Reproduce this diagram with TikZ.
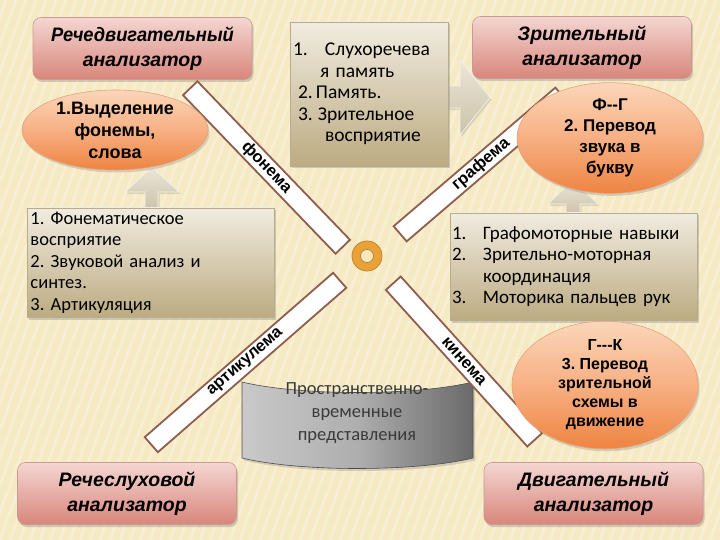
\documentclass[tikz,border=0pt]{standalone}
\usepackage{fontspec}
\setmainfont{Liberation Sans}
\newfontfamily\calfont{Carlito}
\usetikzlibrary{shapes.geometric,shadows}
\frenchspacing
\definecolor{bg}{HTML}{F6EAC4}
\definecolor{pinktop}{HTML}{F4D6D2}
\definecolor{pinkbot}{HTML}{D8867B}
\definecolor{pinkedge}{HTML}{C99A92}
\definecolor{ortop}{HTML}{FBD6BA}
\definecolor{ormid}{HTML}{F7B083}
\definecolor{orbot}{HTML}{EE8442}
\definecolor{oredge}{HTML}{E5A27A}
\definecolor{tantop}{HTML}{F1ECE0}
\definecolor{tanbot}{HTML}{BCAB82}
\definecolor{tanedge}{HTML}{B8AC90}
\definecolor{arrtop}{HTML}{ECE6D8}
\definecolor{arrbot}{HTML}{CCC2AA}
\definecolor{barbrown}{HTML}{8E5D4E}
\definecolor{ringor}{HTML}{E9A23B}
\definecolor{ringdk}{HTML}{C98420}
\definecolor{txtgray}{HTML}{3A3A3A}
\definecolor{cylL}{HTML}{C9C9C9}
\definecolor{cylM}{HTML}{AEAEAE}
\definecolor{cylR}{HTML}{6A6A6A}
\tikzset{
  anbox/.style={rectangle, rounded corners=8pt, draw=pinkedge, line width=0.6pt,
    top color=pinktop, bottom color=pinkbot, minimum width=219pt, minimum height=62pt,
    align=center, inner sep=0pt,
    font=\fontsize{19.5}{25}\selectfont\bfseries\itshape,
    drop shadow={opacity=0.35, shadow xshift=1.5pt, shadow yshift=-2.5pt}},
  oval/.style={ellipse, draw=oredge, line width=0.6pt, top color=ortop, bottom color=orbot,
    middle color=ormid, inner sep=0pt, align=center,
    drop shadow={opacity=0.3, shadow xshift=1.5pt, shadow yshift=-2.5pt}},
  tanbox/.style={rectangle, draw=tanedge, line width=0.5pt, top color=tantop, bottom color=tanbot,
    align=left, inner ysep=0pt, font=\calfont\fontsize{18.5}{21.5}\selectfont,
    drop shadow={opacity=0.35, shadow xshift=2pt, shadow yshift=-2.5pt}},
  bar/.style={rectangle, draw=barbrown, line width=1.8pt, fill=white, minimum height=20pt,
    inner sep=0pt, font=\fontsize{16.5}{17}\selectfont\bfseries},
  blockarrow/.style={top color=arrtop, bottom color=arrbot, draw=white!85!tanedge, line width=0.6pt,
    drop shadow={opacity=0.25, shadow xshift=1.5pt, shadow yshift=-2pt}}
}
\begin{document}
\begin{tikzpicture}[x=1pt,y=-1pt]
\useasboundingbox (0,0) rectangle (720,540);
\fill[bg] (0,0) rectangle (720,540);
\begin{scope}
\clip (0,0) rectangle (720,540);
\foreach \i in {-22,...,74} {
  \draw[white, opacity=0.25, line width=3pt] (\i*10,540) -- ++(196,-540);
}
\end{scope}

% block arrows (behind boxes)
\path[blockarrow] (446,86) -- (460,86) -- (460,60) -- (490,97.5) -- (460,135) -- (460,108) -- (446,108) -- cycle;
\path[blockarrow] (145,210) -- (145,192) -- (125,192) -- (152,167) -- (179,192) -- (158,192) -- (158,210) -- cycle;
\path[blockarrow] (566,215) -- (566,204) -- (548,204) -- (573,180) -- (598,204) -- (580,204) -- (580,215) -- cycle;

% analyzer boxes
\node[anbox] (rd) at (142.5,48.5) {\scalebox{0.94}[1]{Речедвигательный}\\анализатор};
\node[anbox] (zr) at (582,47.5) {Зрительный\\анализатор};
\node[anbox] (rs) at (127,493.5) {Речеслуховой\\анализатор};
\node[anbox] (dv) at (593.5,493.5) {Двигательный\\анализатор};

% central memory box
\node[tanbox, minimum width=158pt, minimum height=144pt, text width=152pt, inner xsep=3pt,
  font=\calfont\fontsize{19.5}{21.5}\selectfont] (mem) at (369,94)
 {\makebox[32pt][l]{1.}Слухоречева\\
  \hspace*{27pt}я память\\
  \hspace*{5pt}\makebox[18pt][l]{2.}Память.\\
  \hspace*{5pt}\makebox[20pt][l]{3.}Зрительное\\
  \hspace*{32pt}восприятие};

% left box
\node[tanbox, minimum width=247pt, minimum height=109pt, text width=240pt, inner xsep=3.5pt] (lbox) at (150.5,262.5)
 {1. Фонематическое\\
  восприятие\\
  2. Звуковой анализ и\\
  синтез.\\
  3. Артикуляция};

% right box
\node[tanbox, minimum width=247pt, minimum height=107pt, text width=243pt, inner xsep=2pt,
  font=\calfont\fontsize{19}{21.5}\selectfont] (rbox) at (573.5,266.5)
 {\makebox[31pt][l]{1.}Графомоторные навыки\\
  \makebox[31pt][l]{2.}Зрительно-моторная\\
  \hspace*{31pt}координация\\
  \makebox[31pt][l]{3.}Моторика пальцев рук};

% cylinder
\path[left color=cylL, right color=cylR, middle color=cylM, draw=black!70, line width=0.6pt,
  drop shadow={opacity=0.3, shadow xshift=2pt, shadow yshift=-2.5pt}]
  (242,382) .. controls (300,396) and (415,396) .. (473,382) -- (473,458)
  .. controls (415,472) and (300,472) .. (242,458) -- cycle;
\node[font=\calfont\fontsize{18.5}{23}\selectfont, text=txtgray, align=center] (cyl) at (357,413)
 {Пространственно-\\временные\\представления};

% bars
\node[bar, minimum width=220pt, rotate=-46.1] (b1) at (266.5,167.5) {фонема};
\node[bar, minimum width=213pt, rotate=40.6] (b2) at (481,164.5) {графема};
\node[bar, minimum width=250pt, rotate=41.1] (b3) at (245.5,362.5) {артикулема};
\node[bar, minimum width=211pt, rotate=-47.9] (b4) at (464,361.5) {кинема};

% ellipses
\node[oval, minimum width=186pt, minimum height=76pt, font=\fontsize{18}{22}\selectfont\bfseries] (e1) at (115,130)
 {1.Выделение\\фонемы,\\слова};
\node[oval, minimum width=186pt, minimum height=86pt, font=\fontsize{17}{21}\selectfont\bfseries] (e2) at (610,138)
 {Ф-{}-Г\\2. Перевод\\звука в\\букву};
\node[oval, minimum width=186pt, minimum height=116pt, font=\fontsize{16}{19}\selectfont\bfseries] (e3) at (605,385)
 {Г-{}-{}-К\\3. Перевод\\зрительной\\схемы в\\движение};

% ring
\node[circle, minimum size=30pt, fill=ringor, draw=ringdk, line width=0.8pt, inner sep=0pt] (ring) at (367,256) {};
\node[circle, minimum size=13pt, fill=bg, draw=ringdk, line width=0.8pt, inner sep=0pt] (hole) at (ring.center) {};
\end{tikzpicture}
\end{document}
